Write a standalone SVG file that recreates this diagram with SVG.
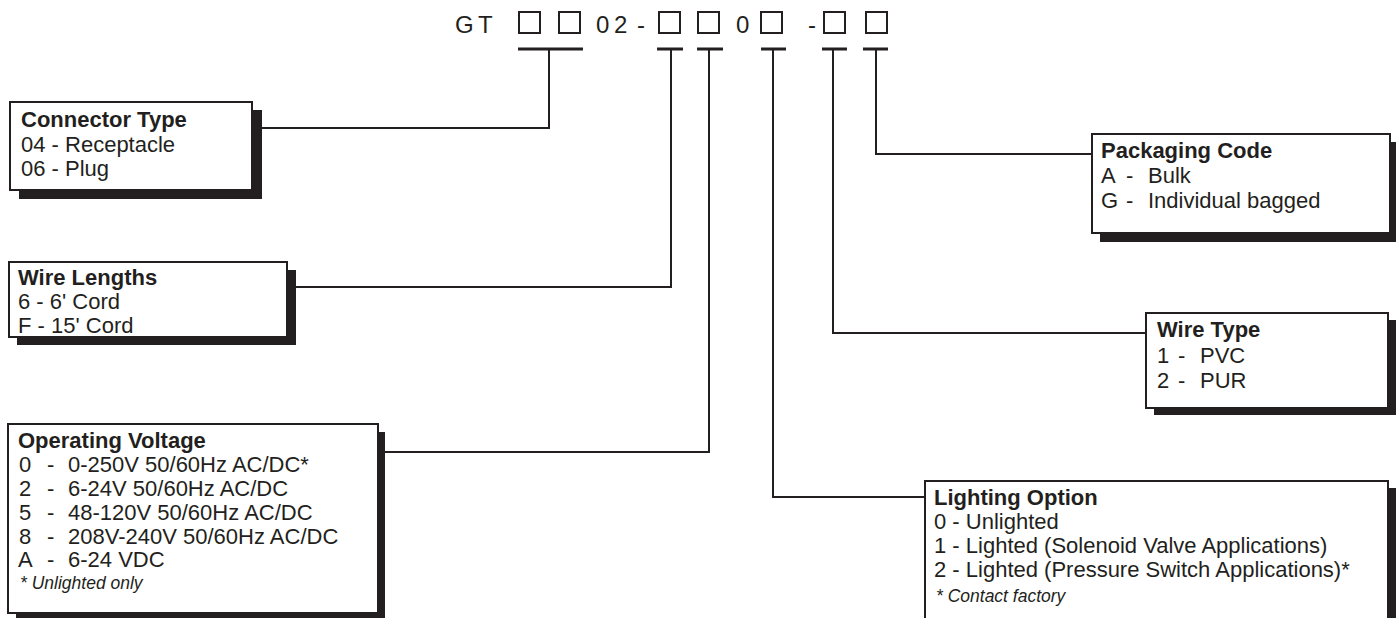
<svg xmlns="http://www.w3.org/2000/svg" width="1396" height="618" viewBox="0 0 1396 618">
<style>
.bg{fill:#fff}
.box{fill:#fff;stroke:#231f20;stroke-width:2}
.sh{fill:#231f20}
.t{font-family:"Liberation Sans",Arial,Helvetica,sans-serif;font-size:22px;fill:#231f20}
.b{font-weight:bold}
.n{font-style:italic;font-size:17.5px}
.h{font-family:"Liberation Sans",Arial,Helvetica,sans-serif;font-size:24px;fill:#231f20}
.conn{fill:none;stroke:#231f20;stroke-width:2}
.ul{fill:none;stroke:#231f20;stroke-width:3}
.sq{fill:none;stroke:#231f20;stroke-width:2}
</style>
<rect class="bg" x="0" y="0" width="1396" height="618"/>

<g id="part-number">
  <text class="h" x="455" y="33">G</text>
  <text class="h" x="478" y="33">T</text>
  <rect class="sq" x="519" y="12" width="21" height="21"/>
  <rect class="sq" x="559" y="12" width="21" height="21"/>
  <text class="h" x="596" y="33">0</text>
  <text class="h" x="614" y="33">2</text>
  <text class="h" x="637" y="33">-</text>
  <rect class="sq" x="659" y="12" width="21" height="21"/>
  <rect class="sq" x="698" y="12" width="21" height="21"/>
  <text class="h" x="736" y="33">0</text>
  <rect class="sq" x="761" y="12" width="21" height="21"/>
  <text class="h" x="808" y="33">-</text>
  <rect class="sq" x="824" y="12" width="21" height="21"/>
  <rect class="sq" x="866" y="12" width="21" height="21"/>
</g>

<g id="connectors">
  <line class="ul" x1="518" y1="49" x2="583" y2="49"/>
  <polyline class="conn" points="549,49 549,128 262,128"/>
  <line class="ul" x1="657" y1="49" x2="683" y2="49"/>
  <polyline class="conn" points="671,49 671,287 296,287"/>
  <line class="ul" x1="697" y1="49" x2="723" y2="49"/>
  <polyline class="conn" points="709,49 709,452 385,452"/>
  <line class="ul" x1="761" y1="49" x2="786" y2="49"/>
  <polyline class="conn" points="773,49 773,497 925,497"/>
  <line class="ul" x1="822" y1="49" x2="847" y2="49"/>
  <polyline class="conn" points="833,49 833,333 1146,333"/>
  <line class="ul" x1="863" y1="49" x2="888" y2="49"/>
  <polyline class="conn" points="876,49 876,154 1092,154"/>
</g>

<g id="connector-type">
  <rect class="sh" x="19" y="110" width="243" height="89"/>
  <rect class="box" x="10" y="102" width="242" height="88"/>
  <text class="t b" x="21" y="127">Connector Type</text>
  <text class="t" x="21" y="152">04 - Receptacle</text>
  <text class="t" x="21" y="176">06 - Plug</text>
</g>

<g id="wire-lengths">
  <rect class="sh" x="17" y="270" width="279" height="75"/>
  <rect class="box" x="9" y="262" width="278" height="75"/>
  <text class="t b" x="18" y="285">Wire Lengths</text>
  <text class="t" x="18" y="309">6 - 6' Cord</text>
  <text class="t" x="18" y="333">F - 15' Cord</text>
</g>

<g id="operating-voltage">
  <rect class="sh" x="16" y="432" width="369" height="190"/>
  <rect class="box" x="8" y="424" width="370" height="189"/>
  <text class="t b" x="18" y="448">Operating Voltage</text>
  <text class="t" y="472"><tspan x="19">0</tspan><tspan x="47">-</tspan><tspan x="68">0-250V 50/60Hz AC/DC*</tspan></text>
  <text class="t" y="496"><tspan x="19">2</tspan><tspan x="47">-</tspan><tspan x="68">6-24V 50/60Hz AC/DC</tspan></text>
  <text class="t" y="520"><tspan x="19">5</tspan><tspan x="47">-</tspan><tspan x="68">48-120V 50/60Hz AC/DC</tspan></text>
  <text class="t" y="544"><tspan x="19">8</tspan><tspan x="47">-</tspan><tspan x="68">208V-240V 50/60Hz AC/DC</tspan></text>
  <text class="t" y="567"><tspan x="18">A</tspan><tspan x="47">-</tspan><tspan x="68">6-24 VDC</tspan></text>
  <text class="t n" x="20" y="589">* Unlighted only</text>
</g>

<g id="packaging-code">
  <rect class="sh" x="1100" y="142" width="300" height="100"/>
  <rect class="box" x="1092" y="134" width="298" height="99"/>
  <text class="t b" x="1101" y="158">Packaging Code</text>
  <text class="t" y="183"><tspan x="1101">A</tspan><tspan x="1126">-</tspan><tspan x="1148">Bulk</tspan></text>
  <text class="t" y="208"><tspan x="1101">G</tspan><tspan x="1126">-</tspan><tspan x="1148">Individual bagged</tspan></text>
</g>

<g id="wire-type">
  <rect class="sh" x="1154" y="320" width="242" height="95"/>
  <rect class="box" x="1146" y="313" width="242" height="95"/>
  <text class="t b" x="1157" y="337">Wire Type</text>
  <text class="t" y="363"><tspan x="1157">1</tspan><tspan x="1178">-</tspan><tspan x="1200">PVC</tspan></text>
  <text class="t" y="388"><tspan x="1157">2</tspan><tspan x="1178">-</tspan><tspan x="1200">PUR</tspan></text>
</g>

<g id="lighting-option">
  <rect class="sh" x="933" y="488" width="463" height="150"/>
  <rect class="box" x="925" y="481" width="463" height="150"/>
  <text class="t b" x="934" y="505">Lighting Option</text>
  <text class="t" x="934" y="529">0 - Unlighted</text>
  <text class="t" x="934" y="553">1 - Lighted (Solenoid Valve Applications)</text>
  <text class="t" x="934" y="577">2 - Lighted (Pressure Switch Applications)*</text>
  <text class="t n" x="936" y="602">* Contact factory</text>
</g>
</svg>
